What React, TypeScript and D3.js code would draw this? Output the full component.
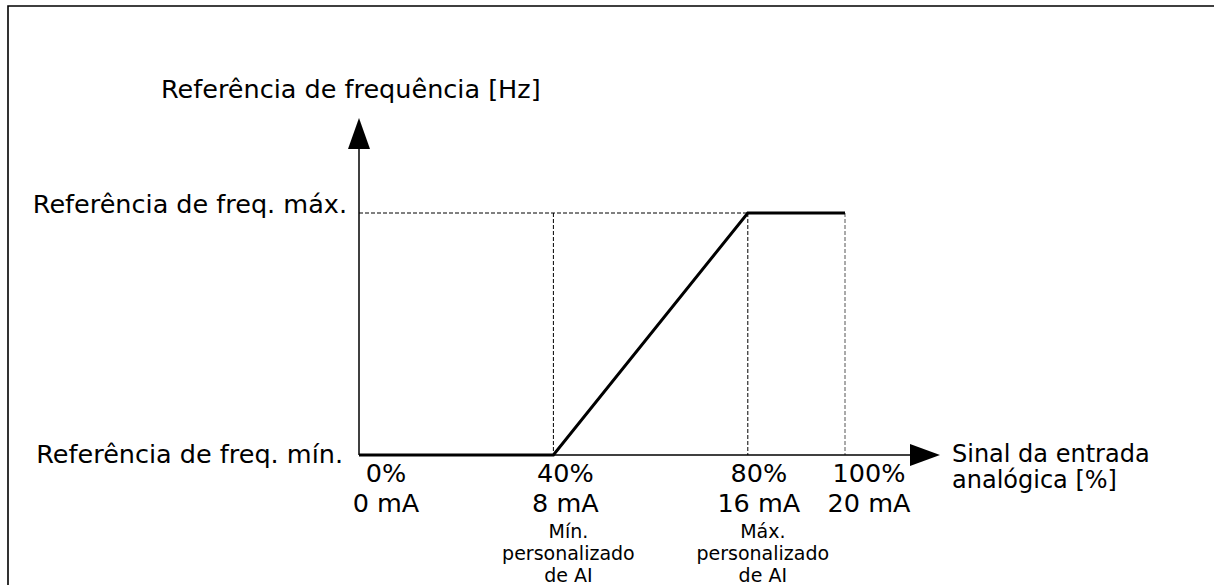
import React from 'react';
import * as d3 from 'd3';

// signal axis, percent of analog input
const signalPct = [0, 40, 80, 100];
const signalMa = ['0 mA', '8 mA', '16 mA', '20 mA'];
const pctLabels = ['0%', '40%', '80%', '100%'];
// frequency reference: 0 = min, 1 = max
const curveX = [0, 40, 80, 100];
const curveY = [0, 0, 1, 1];
// dashed guides
const guideX = [40, 80, 100];
const customLabels = [
    { at: 40, lines: ['Mín.', 'personalizado', 'de AI'] },
    { at: 80, lines: ['Máx.', 'personalizado', 'de AI'] },
];

const yTitle = 'Referência de frequência [Hz]';
const maxLabel = 'Referência de freq. máx.';
const minLabel = 'Referência de freq. mín.';
const xTitle = ['Sinal da entrada', 'analógica [%]'];

const App = () => {
    const width = 1214;
    const height = 585;
    const font = '"DejaVu Sans", Verdana, sans-serif';

    const x = d3.scaleLinear().domain([0, 100]).range([359, 845]);
    const y = d3.scaleLinear().domain([0, 1]).range([455, 213]);

    const x0 = x(0);
    const yMin = y(0);
    const yMax = y(1);

    const line = d3.line<number>()
        .x(d => x(curveX[d]))
        .y(d => y(curveY[d]));

    // label nudges (the original labels sit a bit right of their ticks)
    const nudge = [27, 12, 11, 24];
    const subNudge = 15;

    const axisEndX = x(100) + 95;
    const yArrowTop = yMax - 95;

    return (
        <svg width={width} height={height} style={{ position: 'absolute', left: 0, top: 0, background: '#fff' }}>
            {/* frame */}
            <path d={`M8,${height} L8,6 L${width},6`} fill="none" stroke="#000" strokeWidth={1.6} />

            {/* dashed guides */}
            <line x1={x0} x2={x(80)} y1={yMax} y2={yMax} stroke="#000" strokeWidth={1} strokeDasharray="4,2" />
            {guideX.map((v, i) => (
                <line key={i} x1={x(v)} x2={x(v)} y1={yMax} y2={yMin}
                    stroke={v === 100 ? '#555' : '#000'} strokeWidth={1} strokeDasharray="4,2" />
            ))}

            {/* axes */}
            <line x1={x0} x2={axisEndX - 30} y1={yMin} y2={yMin} stroke="#000" strokeWidth={1.5} />
            <path d={`M${axisEndX - 30},${yMin - 11} L${axisEndX},${yMin} L${axisEndX - 30},${yMin + 11} Z`} fill="#000" />
            <line x1={x0} x2={x0} y1={yMin} y2={yArrowTop + 31} stroke="#000" strokeWidth={1.5} />
            <path d={`M${x0 - 11},${yArrowTop + 31} L${x0},${yArrowTop} L${x0 + 11},${yArrowTop + 31} Z`} fill="#000" />

            {/* curve */}
            <path d={line(d3.range(curveX.length)) || ''} fill="none" stroke="#000" strokeWidth={3} strokeLinejoin="miter" />

            <g fontFamily={font} fill="#000">
                <text x={x0 - 198} y={98} fontSize={25.5}>{yTitle}</text>
                <text x={x0 - 12} y={yMax} fontSize={25.5} textAnchor="end">{maxLabel}</text>
                <text x={x0 - 16} y={yMin + 8} fontSize={25.5} textAnchor="end">{minLabel}</text>

                {signalPct.map((v, i) => (
                    <g key={i} fontSize={25.5} textAnchor="middle">
                        <text x={x(v) + nudge[i]} y={yMin + 27}>{pctLabels[i]}</text>
                        <text x={x(v) + nudge[i]} y={yMin + 57}>{signalMa[i]}</text>
                    </g>
                ))}

                {customLabels.map((c, i) => (
                    <g key={i} fontSize={19} textAnchor="middle">
                        {c.lines.map((t, j) => (
                            <text key={j} x={x(c.at) + subNudge} y={yMin + 83 + j * 22}>{t}</text>
                        ))}
                    </g>
                ))}

                {xTitle.map((t, i) => (
                    <text key={i} x={axisEndX + 12} y={yMin + 7 + i * 26} fontSize={24}>{t}</text>
                ))}
            </g>
        </svg>
    );
};

export default App;
